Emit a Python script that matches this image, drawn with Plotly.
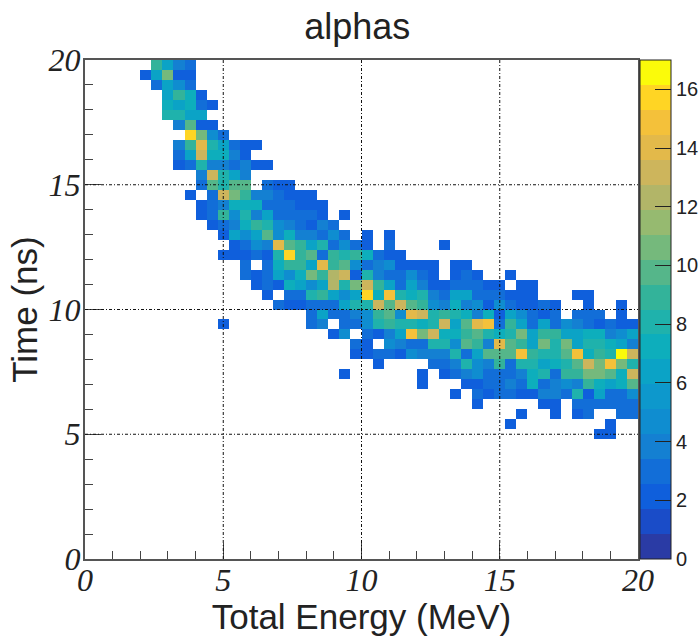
import plotly.graph_objects as go

row_starts = [6,5,6,7,7,7,8,9,8,8,8,10,10,9,10,10,11,12,13,12,14,14,15,16,17,20,12,22,24,24,26,23,30,33,35,39,38,46]
row_values = [
 [9,6,4,3],
 [2,6,11,2,2],
 [3,6,5,3],
 [6,9,7,2],
 [7,6,7,3,2],
 [8,8,6,6],
 [4,10,2,2],
 [16,11,5,3],
 [4,9,14,8,6,3,2,2],
 [3,6,13,7,7,4,2],
 [2,3,8,4,4,3,4,2,2],
 [4,13,8,6,4],
 [3,10,8,10,10,0,3,2,2],
 [2,0,3,13,11,9,4,4,3,2,2,2],
 [2,3,4,7,7,7,3,3,3,2,2,2],
 [2,3,9,5,8,4,6,3,3,3,3,2,0,2],
 [2,3,4,7,9,8,5,4,3,2,4,3],
 [2,6,5,6,10,5,7,4,4,3,5,3,0,2,0,2],
 [2,3,5,4,14,10,9,6,8,3,5,3,2,0,3,0,0,0,0,2],
 [2,2,2,3,2,8,16,9,10,3,9,8,9,7,3,2,2],
 [3,0,3,7,9,9,6,14,9,10,5,3,4,5,2,2,2,2,0,2,2],
 [3,2,3,6,5,7,11,9,12,13,2,8,4,3,3,5,3,2,0,2,3,2,0,0,2],
 [2,3,2,7,6,5,6,12,8,11,13,9,6,3,6,4,2,2,3,3,3,2,2,0,2,2],
 [2,0,3,3,8,9,6,5,6,16,7,15,8,7,8,4,3,6,6,3,3,3,2,2,2,0,0,0,2,2],
 [3,2,2,3,3,3,6,8,8,13,10,13,10,9,5,4,7,4,5,2,5,3,2,2,3,2,0,0,2,0,0,2],
 [3,6,3,3,4,5,9,10,5,14,13,8,9,8,7,4,7,2,6,5,3,2,3,0,3,3,3,0,2],
 [2,0,0,0,0,0,0,0,3,4,0,3,3,5,8,9,8,8,7,8,13,6,10,14,15,3,9,6,3,6,3,5,4,3,2,3,2,2],
 [2,5,0,3,2,4,6,15,11,13,7,7,9,10,8,7,8,11,6,9,9,6,6,7,7,4,5,6],
 [3,2,0,5,4,3,3,8,8,5,10,9,4,14,10,9,6,11,8,11,6,8,8,7,6,4],
 [2,2,3,3,2,5,4,4,4,8,3,6,10,10,10,15,9,8,8,10,15,7,9,8,17,13],
 [2,0,0,0,0,3,3,4,8,5,4,9,3,8,8,6,7,8,10,13,11,15,11,8],
 [2,0,0,0,0,0,0,2,0,2,3,4,5,3,3,3,4,7,8,3,9,9,11,11,10,7,13],
 [2,0,0,0,2,2,3,3,4,3,7,3,4,5,4,9,7,6,7,10],
 [2,0,3,2,3,3,2,2,4,4,3,8,2,6,3,3,5],
 [2,0,0,0,0,0,2,2,0,3,3,3,3,3,3],
 [2,0,0,2,0,2,3,0,0,3,3],
 [2,0,0,0,0,0,0,0,0,2],
 [2,2],
]
x_ticks = [0, 5, 10, 15, 20]
y_ticks = [0, 5, 10, 15, 20]
bar_ticks = [0, 2, 4, 6, 8, 10, 12, 14, 16]

n_bins = 50
z = [[None] * n_bins for _ in range(n_bins)]
for i, (s, vals) in enumerate(zip(row_starts, row_values)):
    for k, v in enumerate(vals):
        if v and s + k < n_bins:
            z[n_bins - 1 - i][s + k] = v

band_colors = ["#2a3ba5","#1a4cc8","#0f5fdc","#126ed8","#1480d2","#0f8dd0","#0d98cc","#0ba3c6","#0daebc","#1fb2ac",
               "#33b39a","#55b68a","#75b97c","#96ba70","#b2b568","#cdb55c","#e3b94a","#f4c13a","#ffd524","#fbfb0a"]
N = len(band_colors)
cs = []
for k, c in enumerate(band_colors):
    cs += [[k / N, c], [(k + 1) / N, c]]

fig = go.Figure(go.Heatmap(
    z=z, x0=0.2, dx=0.4, y0=0.2, dy=0.4, zmin=0, zmax=17, colorscale=cs, hoverongaps=False,
    colorbar=dict(x=1.0036, xanchor="left", xpad=0, y=0, yanchor="bottom", len=1, ypad=0, thickness=31,
                  tickmode="array", tickvals=bar_ticks, ticks="inside", ticklen=16, tickcolor="#222",
                  outlinecolor="#222", outlinewidth=1,
                  tickfont=dict(family="Liberation Sans", size=20, color="#222"))))

axis_common = dict(range=[0, 20], showgrid=False, zeroline=False, showline=True, mirror=True, automargin=False,
                   linecolor="#555", linewidth=2, ticks="inside", ticklen=16, tickcolor="#444", tickwidth=1,
                   tickmode="array",
                   tickfont=dict(family="Liberation Serif", size=32, style="italic", color="#222"),
                   minor=dict(dtick=1, ticks="inside", ticklen=8, tickcolor="#444", tickwidth=1, showgrid=False))
fig.update_layout(
    width=699, height=636, autosize=False, paper_bgcolor="white", plot_bgcolor="white",
    margin=dict(l=85, r=61, t=60, b=77, autoexpand=False),
    title=dict(text="alphas", x=0.511, xanchor="center", y=0.958, yanchor="middle",
               font=dict(family="Liberation Sans", size=36, color="#222")),
    xaxis=dict(tickvals=x_ticks, ticklabelstandoff=-8,
               title=dict(text="Total Energy (MeV)", standoff=6,
                          font=dict(family="Liberation Sans", size=35, color="#222")), **axis_common),
    yaxis=dict(tickvals=y_ticks, ticklabelstandoff=-4,
               title=dict(text="Time (ns)", standoff=0,
                          font=dict(family="Liberation Sans", size=35, color="#222")), **axis_common),
    shapes=[dict(type="line", xref="x", yref="paper", x0=v, x1=v, y0=0, y1=1, layer="above",
                 line=dict(color="#111", width=1, dash="3px,2px,1px,2px")) for v in [5, 10, 15]]
         + [dict(type="line", xref="paper", yref="y", x0=0, x1=1, y0=v, y1=v, layer="above",
                 line=dict(color="#111", width=1, dash="3px,2px,1px,2px")) for v in [5, 10, 15]],
)
fig.write_html("out.html", config={"displayModeBar": False},
               post_script="document.body.style.margin='0';document.documentElement.style.overflow='hidden';")
